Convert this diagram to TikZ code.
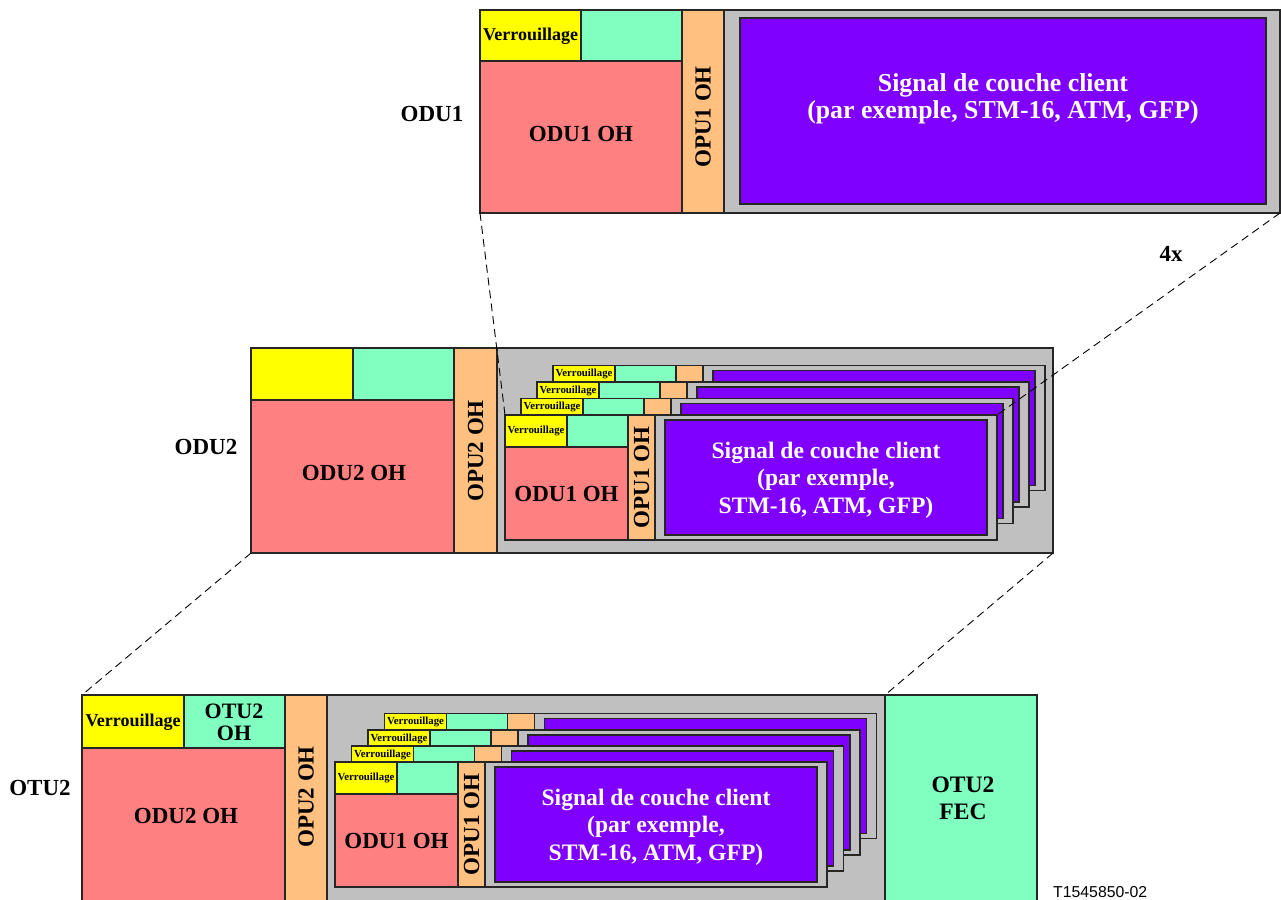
\documentclass[tikz,border=0pt]{standalone}
\usepackage{fontspec}
\setmainfont{Liberation Serif}
\setsansfont{Liberation Sans}
\definecolor{cyel}{HTML}{FFFF00}
\definecolor{cgrn}{HTML}{80FFC0}
\definecolor{cred}{HTML}{FF8080}
\definecolor{corg}{HTML}{FFC080}
\definecolor{cgry}{HTML}{C0C0C0}
\definecolor{cpur}{HTML}{8000FF}
\tikzset{
  box/.style={draw=black!85, line width=1.1pt},
  lbl/.style={font=\bfseries\fontsize{23}{26}\selectfont, inner sep=0pt},
  oh/.style={font=\bfseries\fontsize{23}{26}\selectfont, inner sep=0pt},
  verrbig/.style={font=\bfseries\fontsize{18}{20}\selectfont, inner sep=0pt},
  verr/.style={font=\bfseries\fontsize{10.8}{12}\selectfont, inner sep=0pt},
  sig/.style={font=\bfseries\fontsize{23.6}{27.5}\selectfont, text=white, align=center, inner sep=0pt},
  sigbig/.style={font=\bfseries\fontsize{25.8}{27}\selectfont, text=white, align=center, inner sep=0pt},
  twoline/.style={font=\bfseries\fontsize{22}{21.5}\selectfont, align=center, inner sep=0pt},
  fec/.style={font=\bfseries\fontsize{23.6}{27}\selectfont, align=center, inner sep=0pt},
  zoomline/.style={draw=black, line width=0.9pt, dash pattern=on 8pt off 5pt},
}
\newcommand\oduframe[1]{%
  \begin{scope}[shift={#1}]
    \path[box,fill=cgry] (150,0) rectangle (492,125);
    \path[box,fill=cpur] (160,5) rectangle (482,120);
    \path[box,fill=corg] (123,0) rectangle (150,125);
    \path[box,fill=cred] (0,32) rectangle (123,125);
    \path[box,fill=cgrn] (62,0) rectangle (123,32);
    \path[box,fill=cyel] (0,0) rectangle (62,32);
  \end{scope}}
\newcommand\oduback[2]{%
  \oduframe{#1}%
  \begin{scope}[shift={#1}]
    \node[verr] (#2) at (31,8.5) {Verrouillage};
  \end{scope}}
\newcommand\odufront[2]{%
  \oduframe{#1}%
  \begin{scope}[shift={#1}]
    \node[verr] (#2v) at (31,16) {Verrouillage};
    \node[oh] (#2o) at (61.5,78.5) {ODU1 OH};
    \node[oh,rotate=90] (#2p) at (136.5,62.5) {OPU1 OH};
    \node[sig] (#2s) at (321,65) {Signal de couche client\\(par exemple,\\STM-16, ATM, GFP)};
    \coordinate (#2tl) at (0,0);
    \coordinate (#2tr) at (492,0);
  \end{scope}}
\begin{document}
\begin{tikzpicture}[x=1pt,y=-1pt]
\useasboundingbox (0,0) rectangle (1281,899);

% ---------------- ODU1 (top) ----------------
\path[box,fill=cgry] (724,10) rectangle (1280,213);
\path[box,fill=cpur] (740,18) rectangle (1266,204);
\path[box,fill=corg] (682,10) rectangle (724,213);
\path[box,fill=cred] (480,61) rectangle (682,213);
\path[box,fill=cgrn] (581,10) rectangle (682,61);
\path[box,fill=cyel] (480,10) rectangle (581,61);
\coordinate (a-bl) at (480,213);
\coordinate (a-br) at (1280,213);
\node[verrbig] (a-v) at (530.5,36) {Verrouillage};
\node[oh] (a-o) at (581,134) {ODU1 OH};
\node[oh,rotate=90] (a-p) at (703,117) {OPU1 OH};
\node[sigbig] (a-s) at (1003,99) {Signal de couche client\\(par exemple, STM-16, ATM, GFP)};
\node[lbl] (a-l) at (432,114) {ODU1};
\node[lbl] (four) at (1171,254) {4x};

% ---------------- ODU2 (middle) ----------------
\path[box,fill=cgry] (497,348) rectangle (1053,553);
\path[box,fill=corg] (454,348) rectangle (497,553);
\path[box,fill=cred] (251,400) rectangle (454,553);
\path[box,fill=cgrn] (353,348) rectangle (454,400);
\path[box,fill=cyel] (251,348) rectangle (353,400);
\coordinate (b-bl) at (251,553);
\coordinate (b-br) at (1053,553);
\node[oh] (b-o) at (354,473) {ODU2 OH};
\node[oh,rotate=90] (b-p) at (475.5,451) {OPU2 OH};
\node[lbl] (b-l) at (206,447) {ODU2};
\oduback{(553,365.5)}{b3}
\oduback{(537,382)}{b2}
\oduback{(521,398.5)}{b1}
\odufront{(505,415)}{bf}

% ---------------- OTU2 (bottom) ----------------
\path[box,fill=cgry] (327,695) rectangle (885,902);
\path[box,fill=cgrn] (885,695) rectangle (1037,902);
\path[box,fill=corg] (285,695) rectangle (327,902);
\path[box,fill=cred] (82,748) rectangle (285,902);
\path[box,fill=cgrn] (184,695) rectangle (285,748);
\path[box,fill=cyel] (82,695) rectangle (184,748);
\coordinate (c-tl) at (82,695);
\coordinate (c-tr) at (885,695);
\node[verrbig] (c-v) at (133,722) {Verrouillage};
\node[twoline] (c-oh) at (234,722.5) {OTU2\\OH};
\node[oh] (c-o) at (186,816) {ODU2 OH};
\node[oh,rotate=90] (c-p) at (306,797) {OPU2 OH};
\node[fec] (c-f) at (963,798.5) {OTU2\\FEC};
\node[lbl] (c-l) at (40,788) {OTU2};
\oduback{(384.5,713.5)}{c3}
\oduback{(368,730)}{c2}
\oduback{(351.5,746)}{c1}
\odufront{(335,762)}{cf}
\node[font=\sffamily\fontsize{15.8}{18}\selectfont, inner sep=0pt, anchor=base west] (ref) at (1053,897.5) {T1545850-02};

% ---------------- zoom lines ----------------
\draw[zoomline] (a-bl) -- (bftl);
\draw[zoomline] (a-br) -- (bftr);
\draw[zoomline] (b-bl) -- (c-tl);
\draw[zoomline] (b-br) -- (c-tr);
\end{tikzpicture}
\end{document}
